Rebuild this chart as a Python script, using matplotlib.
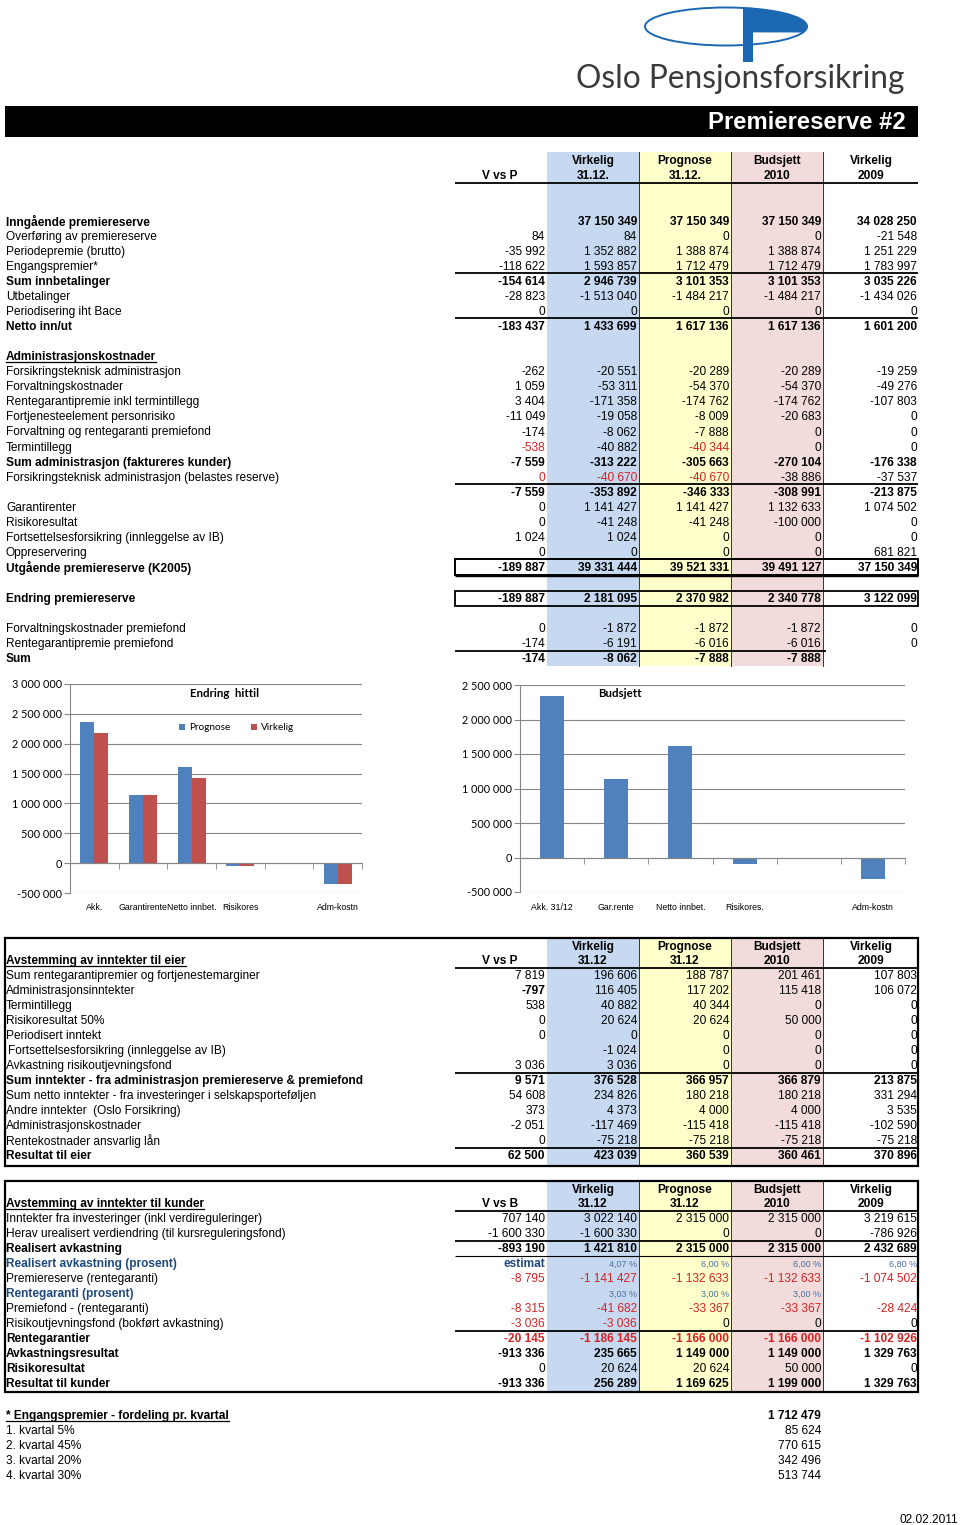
import numpy as np
import matplotlib.pyplot as plt
from matplotlib.patches import Rectangle, Ellipse, Polygon
from matplotlib.ticker import FuncFormatter

plt.rcParams['font.family'] = ['Liberation Sans', 'DejaVu Sans']

# ---------------- data ----------------
head_top = ["Virkelig", "Prognose", "Budsjett", "Virkelig"]
head_sub_top = ["31.12.", "31.12.", "2010", "2009"]
head_sub = ["31.12", "31.12", "2010", "2009"]

# Premiereserve table
pr_labels = ["Inngående premiereserve", "Overføring av premiereserve", "Periodepremie (brutto)",
             "Engangspremier*", "Sum innbetalinger", "Utbetalinger", "Periodisering iht Bace",
             "Netto inn/ut", "", "Administrasjonskostnader", "Forsikringsteknisk administrasjon",
             "Forvaltningskostnader", "Rentegarantipremie inkl termintillegg",
             "Fortjenesteelement personrisiko", "Forvaltning og rentegaranti premiefond",
             "Termintillegg", "Sum administrasjon (faktureres kunder)",
             "Forsikringsteknisk administrasjon (belastes reserve)", "", "Garantirenter",
             "Risikoresultat", "Fortsettelsesforsikring (innleggelse av IB)", "Oppreservering",
             "Utgående premiereserve (K2005)", "Endring premiereserve",
             "Forvaltningskostnader premiefond", "Rentegarantipremie premiefond", "Sum"]
pr_vsp = ["", "84", "-35 992", "-118 622", "-154 614", "-28 823", "0", "-183 437", "", "",
          "-262", "1 059", "3 404", "-11 049", "-174", "-538", "-7 559", "0", "-7 559",
          "0", "0", "1 024", "0", "-189 887", "-189 887", "0", "-174", "-174"]
pr_virk = ["37 150 349", "84", "1 352 882", "1 593 857", "2 946 739", "-1 513 040", "0", "1 433 699", "", "",
           "-20 551", "-53 311", "-171 358", "-19 058", "-8 062", "-40 882", "-313 222", "-40 670", "-353 892",
           "1 141 427", "-41 248", "1 024", "0", "39 331 444", "2 181 095", "-1 872", "-6 191", "-8 062"]
pr_progn = ["37 150 349", "0", "1 388 874", "1 712 479", "3 101 353", "-1 484 217", "0", "1 617 136", "", "",
            "-20 289", "-54 370", "-174 762", "-8 009", "-7 888", "-40 344", "-305 663", "-40 670", "-346 333",
            "1 141 427", "-41 248", "0", "0", "39 521 331", "2 370 982", "-1 872", "-6 016", "-7 888"]
pr_buds = ["37 150 349", "0", "1 388 874", "1 712 479", "3 101 353", "-1 484 217", "0", "1 617 136", "", "",
           "-20 289", "-54 370", "-174 762", "-20 683", "0", "0", "-270 104", "-38 886", "-308 991",
           "1 132 633", "-100 000", "0", "0", "39 491 127", "2 340 778", "-1 872", "-6 016", "-7 888"]
pr_2009 = ["34 028 250", "-21 548", "1 251 229", "1 783 997", "3 035 226", "-1 434 026", "0", "1 601 200", "", "",
           "-19 259", "-49 276", "-107 803", "0", "0", "0", "-176 338", "-37 537", "-213 875",
           "1 074 502", "0", "0", "681 821", "37 150 349", "3 122 099", "0", "0", ""]

# Avstemming av inntekter til eier
eier_labels = ["Sum rentegarantipremier og fortjenestemarginer", "Administrasjonsinntekter",
               "Termintillegg", "Risikoresultat 50%", "Periodisert inntekt",
               "Fortsettelsesforsikring (innleggelse av IB)", "Avkastning risikoutjevningsfond",
               "Sum inntekter - fra administrasjon premiereserve & premiefond",
               "Sum netto inntekter - fra investeringer i selskapsporteføljen",
               "Andre inntekter  (Oslo Forsikring)", "Administrasjonskostnader",
               "Rentekostnader ansvarlig lån", "Resultat til eier"]
eier_vsp = ["7 819", "-797", "538", "0", "0", "", "3 036", "9 571", "54 608", "373", "-2 051", "0", "62 500"]
eier_virk = ["196 606", "116 405", "40 882", "20 624", "0", "-1 024", "3 036", "376 528", "234 826",
             "4 373", "-117 469", "-75 218", "423 039"]
eier_progn = ["188 787", "117 202", "40 344", "20 624", "0", "0", "0", "366 957", "180 218",
              "4 000", "-115 418", "-75 218", "360 539"]
eier_buds = ["201 461", "115 418", "0", "50 000", "0", "0", "0", "366 879", "180 218",
             "4 000", "-115 418", "-75 218", "360 461"]
eier_2009 = ["107 803", "106 072", "0", "0", "0", "0", "0", "213 875", "331 294",
             "3 535", "-102 590", "-75 218", "370 896"]

# Avstemming av inntekter til kunder
kund_labels = ["Inntekter fra investeringer (inkl verdireguleringer)",
               "Herav urealisert verdiendring (til kursreguleringsfond)", "Realisert avkastning",
               "Realisert avkastning (prosent)", "Premiereserve (rentegaranti)", "Rentegaranti (prosent)",
               "Premiefond - (rentegaranti)", "Risikoutjevningsfond (bokført avkastning)",
               "Rentegarantier", "Avkastningsresultat", "Risikoresultat", "Resultat til kunder"]
kund_vsb = ["707 140", "-1 600 330", "-893 190", "estimat", "-8 795", "", "-8 315", "-3 036",
            "-20 145", "-913 336", "0", "-913 336"]
kund_virk = ["3 022 140", "-1 600 330", "1 421 810", "4,07 %", "-1 141 427", "3,03 %", "-41 682", "-3 036",
             "-1 186 145", "235 665", "20 624", "256 289"]
kund_progn = ["2 315 000", "0", "2 315 000", "6,00 %", "-1 132 633", "3,00 %", "-33 367", "0",
              "-1 166 000", "1 149 000", "20 624", "1 169 625"]
kund_buds = ["2 315 000", "0", "2 315 000", "6,00 %", "-1 132 633", "3,00 %", "-33 367", "0",
             "-1 166 000", "1 149 000", "50 000", "1 199 000"]
kund_2009 = ["3 219 615", "-786 926", "2 432 689", "6,80 %", "-1 074 502", "", "-28 424", "0",
             "-1 102 926", "1 329 763", "0", "1 329 763"]

# Engangspremier per kvartal
eng_labels = ["* Engangspremier - fordeling pr. kvartal", "1. kvartal 5%", "2. kvartal 45%",
              "3. kvartal 20%", "4. kvartal 30%"]
eng_values = ["1 712 479", "85 624", "770 615", "342 496", "513 744"]

# Charts
left_cats = ["Akk.", "Garantirente", "Netto innbet.", "Risikores", "", "Adm-kostn"]
left_prognose = [2370982, 1141427, 1617136, -41248, np.nan, -346333]
left_virkelig = [2181095, 1141427, 1433699, -41248, np.nan, -353892]
right_cats = ["Akk. 31/12", "Gar.rente", "Netto innbet.", "Risikores.", "", "Adm-kostn"]
right_budsjett = [2340778, 1132633, 1617136, -100000, np.nan, -308991]

# ---------------- styles ----------------
FS = 8.6
DY = 1.3  # visual centring of text on the row
RED = '#d42222'
NAVY = '#1f497d'
C_BLUE, C_YEL, C_PINK = '#c6d9f1', '#ffffcc', '#f2dcdb'
COL_L = [546.5, 638.5, 730.5]
COL_R = [638.5, 730.5, 823]
VAL_X = [545, 637, 729, 821, 917]
HEAD_X = [593, 685, 777, 871]

pr_bold = {0, 4, 7, 16, 18, 23, 24, 27}
pr_red = {(15, 0), (15, 2), (17, 0), (17, 1), (17, 2)}
eier_bold = {7, 12}
kund_bold = {2, 8, 9, 11}
kund_red_rows = {4, 6, 8}
kund_red = {(7, 0), (7, 1)}

fig = plt.figure(figsize=(9.6, 15.25), dpi=100)
ax = fig.add_axes([0, 0, 1, 1])
ax.set_xlim(0, 960)
ax.set_ylim(1525, 0)
ax.axis('off')

underlined = []


def put(x, y, s, ha='left', bold=False, color='black', size=FS, family=None, ul=False):
    kw = {}
    if family:
        kw['family'] = family
    t = ax.text(x, y + DY, s, ha=ha, va='center', fontsize=size, color=color,
                fontweight='bold' if bold else 'normal', **kw)
    if ul:
        underlined.append(t)
    return t


def hline(y, x0=455, x1=918, lw=1.3, color='black'):
    ax.plot([x0, x1], [y, y], color=color, lw=lw, solid_capstyle='butt')


def shade(y0, y1):
    for xl, xr, c in zip(COL_L, COL_R, [C_BLUE, C_YEL, C_PINK]):
        ax.add_patch(Rectangle((xl, y0), xr - xl, y1 - y0, fc=c, ec='none', zorder=0))
    for x in COL_R:
        ax.plot([x, x], [y0, y1], color='#333333', lw=0.7, zorder=1)


def headers(y1, y2, subs, vlabel):
    for x, a, b in zip(HEAD_X, head_top, subs):
        put(x, y1, a, ha='center', bold=True)
        put(x, y2, b, ha='center', bold=True)
    put(518, y2, vlabel, ha='right', bold=True)


# ---------------- logo + banner ----------------
logo_blue = '#1b67b2'
ax.add_patch(Ellipse((726, 26.5), 162, 38, fill=False, ec=logo_blue, lw=1.4))
t = np.linspace(-0.3, 1.31, 80)
lobe = np.column_stack([726 + 81 * np.cos(t), 26.5 - 19 * np.sin(t)])
lobe = np.vstack([lobe, [[748, 32]]])
ax.add_patch(Polygon(lobe, closed=True, fc=logo_blue, ec=logo_blue, lw=0.5))
ax.add_patch(Rectangle((743, 8), 9.5, 54, fc=logo_blue, ec='none'))
put(576, 77.5, "Oslo Pensjonsforsikring", size=22.8, color='#3a3a3a', family='Lato')

ax.add_patch(Rectangle((5, 106), 913, 31, fc='black', ec='none'))
put(906, 121, "Premiereserve #2", ha='right', bold=True, color='white', size=17.2)

# ---------------- premiereserve table ----------------
shade(152, 666)
headers(160, 175, head_sub_top, "V vs P")
hline(183)
pr_y = [220.5 + 15.05 * i for i in range(24)] + [598, 628, 643, 658]
pr_cols = [pr_vsp, pr_virk, pr_progn, pr_buds, pr_2009]
for i, (lab, y) in enumerate(zip(pr_labels, pr_y)):
    b = i in pr_bold
    put(6, y, lab, bold=b or i == 9, ul=(i == 9))
    for j, col in enumerate(pr_cols):
        c = RED if (i, j) in pr_red else 'black'
        put(VAL_X[j], y, col[i], ha='right', bold=b, color=c)
for y in [272.5, 317.5, 483.5]:
    hline(y)
hline(651, x1=826)
ax.add_patch(Rectangle((455, 558.5), 463, 16.5, fill=False, ec='black', lw=1.4))
hline(576, lw=1.0)
ax.add_patch(Rectangle((455, 590.5), 463, 15.5, fill=False, ec='black', lw=1.3))

# ---------------- eier table ----------------
shade(938, 1165)
ax.add_patch(Rectangle((5, 937.5), 913, 228, fill=False, ec='black', lw=1.6))
headers(945.5, 960, head_sub, "V vs P")
put(6, 960, "Avstemming av inntekter til eier", bold=True, ul=True)
hline(967.5)
eier_cols = [eier_vsp, eier_virk, eier_progn, eier_buds, eier_2009]
for i, lab in enumerate(eier_labels):
    y = 975 + 15 * i
    b = i in eier_bold
    put(6 if i != 5 else 8, y, lab, bold=b)
    for j, col in enumerate(eier_cols):
        put(VAL_X[j], y, col[i], ha='right', bold=b or (i == 1 and j == 0))
hline(1072.5)
hline(1147.5)

# ---------------- kunder table ----------------
shade(1181, 1391)
ax.add_patch(Rectangle((5, 1180.5), 913, 211, fill=False, ec='black', lw=1.6))
headers(1188.5, 1203, head_sub, "V vs B")
put(6, 1203, "Avstemming av inntekter til kunder", bold=True, ul=True)
hline(1210.5)
kund_cols = [kund_vsb, kund_virk, kund_progn, kund_buds, kund_2009]
for i, lab in enumerate(kund_labels):
    y = 1218 + 15 * i
    pct = i in (3, 5)
    b = i in kund_bold
    put(6, y, lab, bold=b or pct or i == 10, color=NAVY if pct else 'black')
    for j, col in enumerate(kund_cols):
        s = col[i]
        if pct:
            if j == 0:
                put(VAL_X[j], y, s, ha='right', bold=True, color=NAVY)
            else:
                put(VAL_X[j], y, s, ha='right', size=6.5, color='#4a6fa0')
            continue
        c = RED if (i in kund_red_rows or (i, j) in kund_red) else 'black'
        put(VAL_X[j], y, s, ha='right', bold=b, color=c)
hline(1240.5)
hline(1255.5, lw=0.8)
hline(1331)

# ---------------- engangspremier ----------------
for i, (lab, v) in enumerate(zip(eng_labels, eng_values)):
    y = 1415 + 15 * i
    put(6, y, lab, bold=(i == 0), ul=(i == 0))
    put(821, y, v, ha='right', bold=(i == 0))
put(958, 1519, "02.02.2011", ha='right')

# ---------------- charts ----------------
CF = 'Lato'
GRID = '#868686'
thou = FuncFormatter(lambda v, p: f"{int(round(v)):,}".replace(",", " "))


def chart_axes(x0, x1, y0, y1):
    a = fig.add_axes([x0 / 960, 1 - y1 / 1525, (x1 - x0) / 960, (y1 - y0) / 1525])
    a.set_facecolor('none')
    return a


def style_chart(a, cats, ymin, ymax, pad):
    n = len(cats)
    a.set_xlim(-0.5, n - 0.5)
    a.set_ylim(ymin, ymax)
    a.set_yticks(np.arange(ymin, ymax + 1, 500000))
    a.yaxis.set_major_formatter(thou)
    a.yaxis.grid(True, color=GRID, lw=0.8)
    a.set_axisbelow(True)
    a.set_xticks(np.arange(n))
    a.set_xticklabels(cats)
    a.set_xticks(np.arange(n + 1) - 0.5, minor=True)
    a.tick_params(axis='x', which='major', length=0, pad=pad, labelsize=6.3)
    a.tick_params(axis='x', which='minor', length=4, color=GRID, direction='out')
    a.tick_params(axis='y', length=4, color=GRID, labelsize=7.8, pad=2)
    for lab in a.get_xticklabels() + a.get_yticklabels():
        lab.set_family(CF)
    a.spines['bottom'].set_position(('data', 0))
    a.spines['bottom'].set_color(GRID)
    a.spines['left'].set_color(GRID)
    a.spines['top'].set_visible(False)
    a.spines['right'].set_visible(False)


axl = chart_axes(70, 362, 684, 893)
xl = np.arange(len(left_cats))
axl.bar(xl - 0.145, left_prognose, 0.29, color='#4f81bd', label='Prognose')
axl.bar(xl + 0.145, left_virkelig, 0.29, color='#c0504d', label='Virkelig')
style_chart(axl, left_cats, -500000, 3000000, 29)
axl.text(0.53, 0.955, "Endring  hittil", transform=axl.transAxes, ha='center', va='center',
         fontsize=8.3, fontweight='bold', family=CF)
axl.legend(loc='center', bbox_to_anchor=(0.57, 0.79), ncol=2, frameon=False,
           prop={'family': CF, 'size': 7.2}, handlelength=0.6, handleheight=0.6,
           handletextpad=0.4, columnspacing=2.0)

axr = chart_axes(520, 905, 685, 892)
xr = np.arange(len(right_cats))
axr.bar(xr, right_budsjett, 0.375, color='#4f81bd')
style_chart(axr, right_cats, -500000, 2500000, 33)
axr.text(0.26, 0.957, "Budsjett", transform=axr.transAxes, ha='center', va='center',
         fontsize=8.3, fontweight='bold', family=CF)

# underline headings
fig.canvas.draw()
r = fig.canvas.get_renderer()
inv = ax.transData.inverted()
for t in underlined:
    bb = t.get_window_extent(r)
    x0, y0 = inv.transform((bb.x0, bb.y0))
    x1, _ = inv.transform((bb.x1, bb.y0))
    ax.plot([x0, x1], [y0 - 1.5, y0 - 1.5], color='black', lw=0.9)

fig.savefig('out.png', dpi=100)
